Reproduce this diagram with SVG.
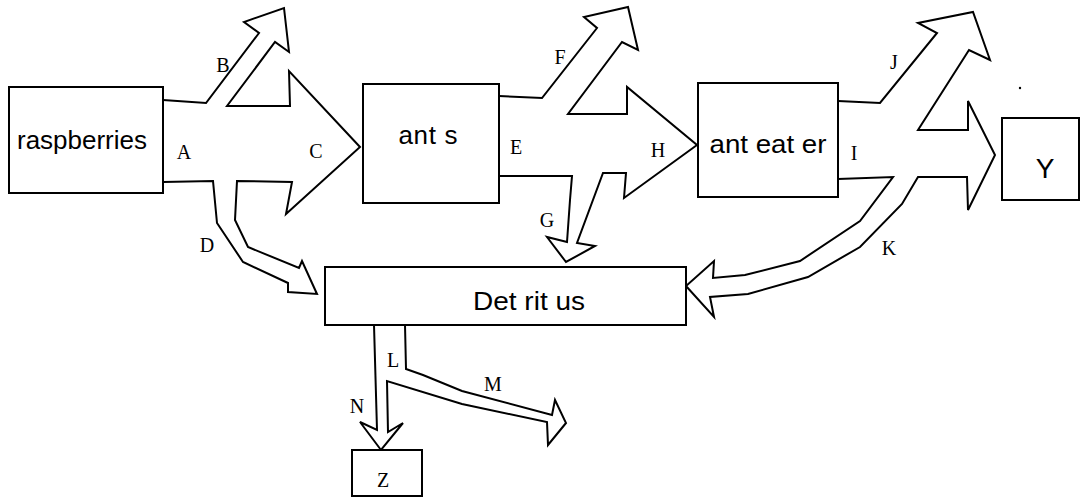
<svg xmlns="http://www.w3.org/2000/svg" width="1081" height="497" viewBox="0 0 1081 497">
<style>
.box{fill:#fff;stroke:#000;stroke-width:2}
.arr{fill:#fff;stroke:#000;stroke-width:2;stroke-linejoin:miter}
.t{font-family:"Liberation Sans",Arial,sans-serif;font-size:26px;fill:#000;text-anchor:middle}
.lb{font-family:"Liberation Serif","Times New Roman",serif;font-size:20px;fill:#000;text-anchor:middle}
</style>
<rect width="1081" height="497" fill="#fff"/>
<g id="connectors">
<path class="arr" d="M163,100 L206,103 L259,33 L244,22 L284,8 L289,52 L275,42 L227,106 L290,106 L289,71 L360,147 L286,214 L292,182 L237,181 L235,220 L248,247 L299,268 L302,261 L317,294 L288,292 L288,283 L243,262 L217,223 L213,181 L163,182"/>
<path class="arr" d="M499,96 L542,98 L597,28 L584,17 L628,7 L638,50 L622,42 L568,114 L627,114 L627,87 L697,145 L624,198 L626,173 L603,173 L577,243 L595,246 L566,262 L547,237 L567,242 L570,200 L572,176 L499,176"/>
<path class="arr" d="M838,101 L880,103 L937,33 L918,23 L973,12 L990,60 L969,50 L918,130 L968,130 L968,101 L995,155 L968,210 L967,177 L918,177 L902,204 L860,247 L808,277 L748,294 L710,297 L714,317 L686,286 L714,261 L713,278 L745,275 L800,261 L860,221 L893,177 L838,179"/>
<path class="arr" d="M374,325 L377,430 L360,422 L381,450 L403,423 L388,432 L387,381 L462,404 L547,422 L548,445 L566,423 L555,400 L552,415 L462,391 L423,375 L406,369 L405,325"/>
<circle cx="1020" cy="88" r="1.2" fill="#000"/>
</g>
<g id="raspberries"><rect class="box" x="9" y="87" width="154" height="106"/><text class="t" x="82" y="149" textLength="130" lengthAdjust="spacingAndGlyphs">raspberries</text></g>
<g id="ants"><rect class="box" x="363" y="84" width="136" height="119"/><text class="t" x="428" y="144" textLength="59" lengthAdjust="spacing">ant s</text></g>
<g id="anteater"><rect class="box" x="698" y="83" width="140" height="114"/><text class="t" x="768" y="153" textLength="117" lengthAdjust="spacingAndGlyphs">ant eat er</text></g>
<g id="Y"><rect class="box" x="1002" y="118" width="77" height="82"/><text class="t" x="1045" y="178" style="font-size:28px">Y</text></g>
<g id="detritus"><rect class="box" x="325" y="267" width="361" height="58"/><text class="t" x="529" y="310" textLength="112" lengthAdjust="spacingAndGlyphs">Det rit us</text></g>
<g id="Z"><rect class="box" x="352" y="450" width="70" height="46"/><text class="lb" x="383" y="487">Z</text></g>
<g id="labels">
<text class="lb" x="223" y="72">B</text>
<text class="lb" x="184" y="159">A</text>
<text class="lb" x="316" y="158">C</text>
<text class="lb" x="207" y="252">D</text>
<text class="lb" x="560" y="64">F</text>
<text class="lb" x="516" y="154">E</text>
<text class="lb" x="658" y="157">H</text>
<text class="lb" x="547" y="227">G</text>
<text class="lb" x="894" y="69">J</text>
<text class="lb" x="854" y="160">I</text>
<text class="lb" x="889" y="255">K</text>
<text class="lb" x="393" y="367">L</text>
<text class="lb" x="493" y="391">M</text>
<text class="lb" x="357" y="413">N</text>
</g>
</svg>
